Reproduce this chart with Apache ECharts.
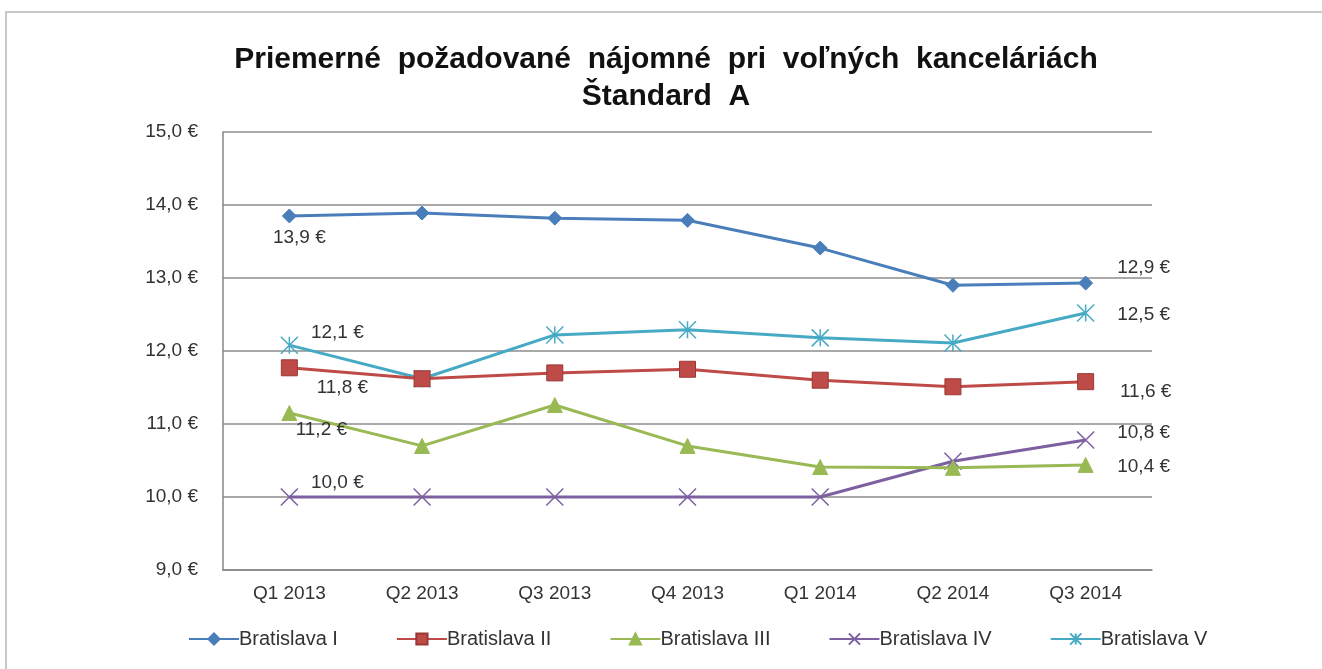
<!DOCTYPE html>
<html>
<head>
<meta charset="utf-8">
<script src="https://cdn.jsdelivr.net/npm/echarts@6/dist/echarts.min.js"></script>
<style>
  html, body { margin: 0; padding: 0; background: #fff; }
  #frame { position: absolute; left: 5px; top: 11px; width: 1330px; height: 670px; border: 2px solid #c8c8c8; box-sizing: border-box; }
  #chart { position: absolute; left: 0; top: 0; width: 1322px; height: 669px; }
</style>
</head>
<body>
<div id="frame"></div>
<div id="chart"></div>
<script>
const categories = ['Q1 2013', 'Q2 2013', 'Q3 2013', 'Q4 2013', 'Q1 2014', 'Q2 2014', 'Q3 2014']
const seriesNames = ['Bratislava I', 'Bratislava II', 'Bratislava III', 'Bratislava IV', 'Bratislava V']
const bratislavaI = [13.85, 13.89, 13.82, 13.79, 13.41, 12.90, 12.93]
const bratislavaII = [11.77, 11.62, 11.70, 11.75, 11.60, 11.51, 11.58]
const bratislavaIII = [11.15, 10.70, 11.26, 10.70, 10.41, 10.40, 10.44]
const bratislavaIV = [10.0, 10.0, 10.0, 10.0, 10.0, 10.49, 10.78]
const bratislavaV = [12.08, 11.62, 12.22, 12.29, 12.18, 12.11, 12.52]
// labels shown only at first and last point
const firstLabels = ['13,9 €', '11,8 €', '11,2 €', '10,0 €', '12,1 €']
const lastLabels = ['12,9 €', '11,6 €', '10,4 €', '10,8 €', '12,5 €']
const yTicks = [9, 10, 11, 12, 13, 14, 15]

const colors = ['#4a7ebb', '#be4b48', '#98b954', '#7d60a0', '#46aac5']
const symbols = [
  'diamond',
  'rect',
  'triangle',
  'path://M0,0L10,10M10,0L0,10',
  'path://M0,0L10,10M10,0L0,10M5,0L5,10'
]
const symbolSizes = [14, 16, 15, 17, 17]
// label offsets from the point [first, last]
const firstOffsets = [[10, 22], [53, 20], [32, 17], [48, -14], [48, -12]]
const lastOffsets = [[58, -15], [60, 10], [58, 2], [58, -7], [58, 2]]

const seriesValues = [bratislavaI, bratislavaII, bratislavaIII, bratislavaIV, bratislavaV]

const fmt = v => v.toFixed(1).replace('.', ',') + ' €'

const FONT = 'Liberation Sans, Arial'
const labelStyle = { fontFamily: FONT, fontSize: 19, color: '#333' }

const series = seriesNames.map((name, i) => {
  const isStroke = i >= 3
  const data = seriesValues[i].map((v, j) => {
    const item = { value: v }
    if (j === 0 || j === categories.length - 1) {
      const first = j === 0
      item.label = {
        show: true,
        position: 'inside',
        offset: first ? firstOffsets[i] : lastOffsets[i],
        formatter: first ? firstLabels[i] : lastLabels[i],
        ...labelStyle
      }
    }
    return item
  })
  return {
    name,
    type: 'line',
    data,
    symbol: symbols[i],
    symbolSize: symbolSizes[i],
    lineStyle: { color: colors[i], width: 3 },
    itemStyle: isStroke
      ? { color: 'rgba(0,0,0,0)', borderColor: colors[i], borderWidth: 1.5 }
      : { color: colors[i], borderColor: i === 1 ? '#9a3835' : colors[i], borderWidth: 1 },
    z: 10 - i,
    animation: false
  }
})

const chart = echarts.init(document.getElementById('chart'))
chart.setOption({
  backgroundColor: 'transparent',
  color: colors,
  title: {
    text: 'Priemerné  požadované  nájomné  pri  voľných  kanceláriách\nŠtandard  A',
    left: 661,
    textAlign: 'center',
    top: 36,
    textStyle: { fontFamily: FONT, fontSize: 30, fontWeight: 'bold', color: '#111', lineHeight: 37 }
  },
  legend: {
    top: 624,
    left: 183,
    itemGap: 58,
    itemWidth: 50,
    itemHeight: 14,
    textStyle: { fontFamily: FONT, fontSize: 20, color: '#333', padding: [0, 0, 0, -5] },
    data: seriesNames
  },
  grid: { left: 223, right: 170, top: 132, bottom: 99 },
  xAxis: {
    type: 'category',
    data: categories,
    boundaryGap: true,
    axisLine: { lineStyle: { color: '#868686', width: 1.5 } },
    axisTick: { show: false },
    axisLabel: { fontFamily: FONT, fontSize: 19, color: '#333', margin: 14 }
  },
  yAxis: {
    type: 'value',
    min: yTicks[0],
    max: yTicks[yTicks.length - 1],
    interval: 1,
    axisLine: { show: true, lineStyle: { color: '#868686', width: 1.5 } },
    axisTick: { show: false },
    splitLine: { lineStyle: { color: '#8c8c8c', width: 1.5 } },
    axisLabel: { formatter: fmt, fontFamily: FONT, fontSize: 19, color: '#333', margin: 25 }
  },
  series
})
</script>
</body>
</html>
